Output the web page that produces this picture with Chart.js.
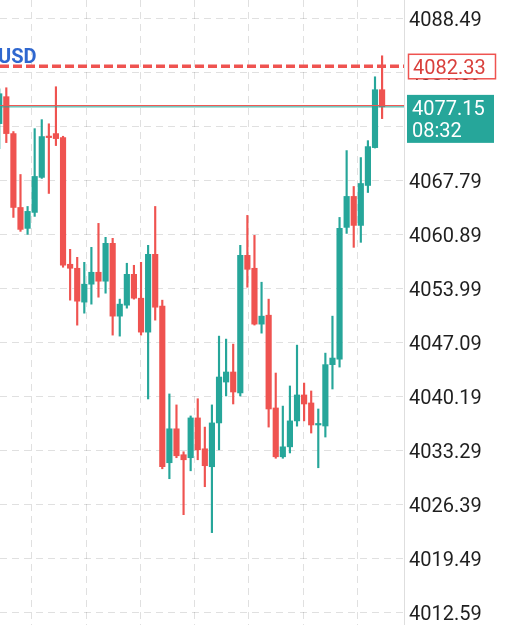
<!DOCTYPE html>
<html lang="en">
<head>
<meta charset="UTF-8">
<title>XAUUSD candles</title>
<script src="https://cdn.jsdelivr.net/npm/chart.js"></script>
<style>
  html, body { margin: 0; padding: 0; background: #fff; overflow: hidden; }
  #wrap { width: 510px; height: 625px; position: relative; }
</style>
</head>
<body>
<div id="wrap"><canvas id="chart"></canvas></div>
<script>
// candle values, oldest first
const opens = [4075.01, 4078.45, 4073.74, 4064.31, 4061.64, 4063.68, 4068.15, 4073.42, 4073.74, 4073.23,
  4057.06, 4056.55, 4052.23, 4054.52, 4056.04, 4054.90, 4059.73, 4050.44, 4051.84, 4055.78,
  4052.73, 4048.40, 4058.33, 4051.71, 4031.73, 4036.06, 4032.75, 4032.37, 4037.45, 4033.51,
  4031.22, 4036.81, 4042.03, 4043.31, 4040.64, 4058.20, 4056.55, 4049.42, 4050.56, 4038.72,
  4032.49, 4033.76, 4037.07, 4040.38, 4039.36, 4036.55, 4036.42, 4044.25, 4044.96, 4061.77,
  4065.72, 4062.02, 4067.12, 4071.95, 4079.34];
const closes = [4078.83, 4073.74, 4064.31, 4061.51, 4063.81, 4068.27, 4073.36, 4073.23, 4073.10, 4056.93,
  4056.55, 4052.35, 4054.52, 4056.04, 4054.90, 4059.73, 4050.44, 4051.97, 4055.78, 4052.73,
  4048.40, 4058.33, 4051.58, 4031.22, 4036.06, 4032.62, 4032.11, 4037.45, 4033.38, 4031.35,
  4036.81, 4042.67, 4043.31, 4040.76, 4058.20, 4056.42, 4049.42, 4050.44, 4038.59, 4032.49,
  4033.76, 4037.07, 4040.38, 4039.23, 4036.55, 4036.60, 4044.25, 4045.09, 4061.64, 4065.72,
  4062.02, 4067.37, 4072.08, 4079.34, 4077.15];
const highs = [4079.46, 4079.59, 4074.00, 4068.52, 4064.44, 4074.37, 4075.52, 4074.99, 4079.72, 4073.40,
  4058.97, 4057.95, 4057.31, 4059.22, 4062.28, 4060.50, 4060.37, 4052.61, 4057.19, 4056.93,
  4057.31, 4059.48, 4064.44, 4052.48, 4040.51, 4039.11, 4033.13, 4037.70, 4039.90, 4036.28,
  4039.11, 4047.89, 4047.51, 4046.87, 4059.48, 4063.30, 4060.75, 4054.77, 4052.61, 4043.18,
  4038.96, 4041.53, 4046.74, 4041.90, 4040.89, 4038.59, 4045.72, 4050.44, 4063.04, 4071.57,
  4066.99, 4070.68, 4072.84, 4080.99, 4083.67];
const lows = [4071.82, 4072.59, 4063.04, 4061.26, 4060.88, 4063.17, 4068.02, 4066.10, 4072.21, 4056.68,
  4052.48, 4049.29, 4050.82, 4051.97, 4052.86, 4053.37, 4048.02, 4047.89, 4051.46, 4052.61,
  4048.02, 4039.87, 4049.93, 4030.96, 4029.69, 4032.37, 4025.10, 4030.70, 4032.11, 4028.67,
  4022.81, 4033.38, 4040.25, 4039.23, 4040.25, 4054.13, 4049.30, 4048.27, 4036.28, 4032.30,
  4032.30, 4032.98, 4036.40, 4037.07, 4035.52, 4031.09, 4035.01, 4041.14, 4043.94, 4061.00,
  4059.22, 4059.86, 4066.22, 4071.90, 4075.65];

const priceTicks = [4012.59, 4019.49, 4026.39, 4033.29, 4040.19, 4047.09, 4053.99, 4060.89, 4067.79, 4074.69, 4081.59, 4088.49];
const timeGrid = [4.62, 12.27, 19.91, 27.56, 35.20, 42.85, 50.49];

const symbolText = 'USD';
const lastPrice = 4077.15;
const askPrice = 4077.32;
const markedPrice = 4082.33;
const countdown = '08:32';

const UP = '#26a69a';
const DOWN = '#ef5350';
const GRID = 'rgba(0,0,0,0.12)';

const colors = opens.map((o, i) => closes[i] >= o ? UP : DOWN);
const wickData = opens.map((o, i) => ({ x: i, y: [lows[i], highs[i]] }));
const bodyData = opens.map((o, i) => ({ x: i, y: [o, closes[i]] }));

const overlay = {
    id: 'overlay',
    afterDatasetsDraw(chart) {
        const { ctx, chartArea: a, scales: { y } } = chart;
        ctx.save();
        // marked level, dashed
        const ym = y.getPixelForValue(markedPrice);
        ctx.strokeStyle = DOWN;
        ctx.lineWidth = 3.5;
        ctx.setLineDash([9, 4]);
        ctx.beginPath();
        ctx.moveTo(a.left, ym);
        ctx.lineTo(a.right, ym);
        ctx.stroke();
        ctx.setLineDash([]);
        // bid / ask lines
        ctx.lineWidth = 1;
        ctx.strokeStyle = DOWN;
        const ya = y.getPixelForValue(askPrice);
        ctx.beginPath();
        ctx.moveTo(a.left, ya);
        ctx.lineTo(a.right, ya);
        ctx.stroke();
        ctx.strokeStyle = UP;
        const yl = y.getPixelForValue(lastPrice);
        ctx.beginPath();
        ctx.moveTo(a.left, yl);
        ctx.lineTo(a.right, yl);
        ctx.stroke();
        ctx.restore();
    },
    afterDraw(chart) {
        const { ctx, chartArea: a, scales: { y } } = chart;
        ctx.save();
        ctx.font = '20px Roboto';
        ctx.textBaseline = 'middle';
        ctx.textAlign = 'left';

        const ym = y.getPixelForValue(markedPrice);
        ctx.fillStyle = '#fff';
        ctx.fillRect(a.right + 4, ym - 12.5, 88, 25);
        ctx.strokeStyle = DOWN;
        ctx.lineWidth = 1.5;
        ctx.strokeRect(a.right + 4.5, ym - 12, 87, 24.5);
        ctx.fillStyle = '#d9403c';
        ctx.fillText(markedPrice.toFixed(2), a.right + 9, ym + 2.5);

        const yl = y.getPixelForValue(lastPrice);
        ctx.fillStyle = UP;
        ctx.fillRect(a.right + 3, yl - 12, 87, 48);
        ctx.fillStyle = '#fff';
        ctx.fillText(lastPrice.toFixed(2), a.right + 8, yl + 3);
        ctx.fillText(countdown, a.right + 8, yl + 25);

        ctx.font = 'bold 20px Roboto';
        ctx.fillStyle = '#2f67cf';
        ctx.textBaseline = 'alphabetic';
        ctx.fillText(symbolText, -2, 63);
        ctx.restore();
    }
};

new Chart(document.getElementById('chart'), {
    type: 'bar',
    data: {
        datasets: [
            { label: 'wick', data: wickData, backgroundColor: colors, barThickness: 1.5, grouped: false, order: 2 },
            { label: 'body', data: bodyData, backgroundColor: colors, barThickness: 5.5, minBarLength: 1.5, grouped: false, order: 1 }
        ]
    },
    options: {
        responsive: true,
        maintainAspectRatio: false,
        animation: false,
        layout: { padding: 0 },
        plugins: { legend: { display: false }, tooltip: { enabled: false } },
        scales: {
            x: {
                type: 'linear',
                offset: false,
                min: 0.11,
                max: 57.09,
                ticks: { display: false },
                grid: { color: GRID, drawTicks: false, offset: false, lineWidth: 1 },
                border: { display: false, dash: [7, 5] },
                afterBuildTicks(scale) { scale.ticks = timeGrid.map(v => ({ value: v })); },
                afterFit(scale) { scale.height = 0; scale.paddingLeft = 0; scale.paddingRight = 0; }
            },
            y: {
                position: 'right',
                min: 4011.02,
                max: 4090.79,
                ticks: {
                    autoSkip: false,
                    padding: 5,
                    labelOffset: 2.5,
                    color: '#1f1f1f',
                    font: { family: 'Roboto', size: 20 },
                    callback: v => Number(v).toFixed(2)
                },
                grid: { color: GRID, drawTicks: false },
                border: { display: true, color: '#dedede', width: 1, dash: [7, 5] },
                afterBuildTicks(scale) { scale.ticks = priceTicks.map(v => ({ value: v })); },
                afterFit(scale) { scale.width = 106; scale.paddingTop = 0; scale.paddingBottom = 0; }
            }
        }
    },
    plugins: [overlay]
});
</script>
</body>
</html>
